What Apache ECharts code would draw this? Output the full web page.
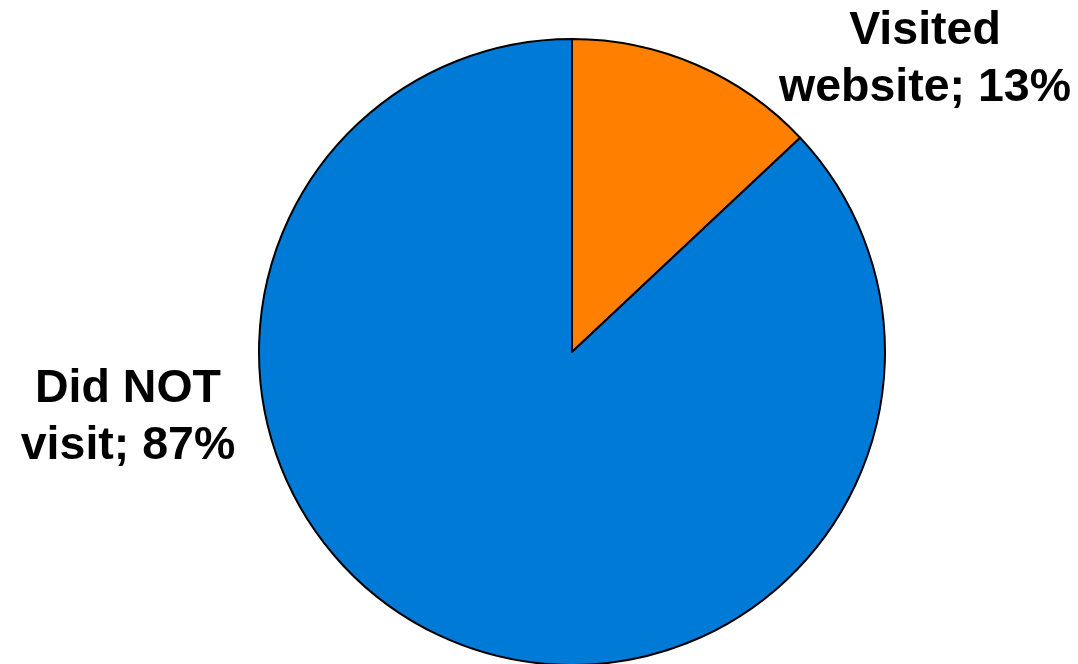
<!DOCTYPE html>
<html>
<head>
<meta charset="utf-8">
<script src="https://cdn.jsdelivr.net/npm/echarts@6/dist/echarts.min.js"></script>
<style>
html,body{margin:0;padding:0;background:#fff;}
#chart{width:1078px;height:664px;}
</style>
</head>
<body>
<div id="chart"></div>
<script>
const categories = ["Visited\nwebsite", "Did NOT\nvisit"];
const values = [13, 87];
const colors = ["#FF7F00", "#007AD7"];

const labelPos = [
  { x: 925, y: 60 },
  { x: 128, y: 418 }
];

const chart = echarts.init(document.getElementById('chart'));
chart.setOption({
  animation: false,
  backgroundColor: '#ffffff',
  series: [{
    type: 'pie',
    center: [572, 352],
    radius: [0, 313],
    startAngle: 90,
    clockwise: true,
    silent: true,
    data: categories.map((c, i) => ({
      name: c,
      value: values[i],
      itemStyle: { color: colors[i] }
    })),
    itemStyle: { borderColor: '#000000', borderWidth: 2 },
    label: {
      show: true,
      position: 'outside',
      formatter: p => p.name + '; ' + Math.round(p.percent) + '%',
      color: '#000000',
      fontFamily: '"Liberation Sans", Arial, sans-serif',
      fontWeight: 'bold',
      fontSize: 46.5,
      lineHeight: 57,
      align: 'center'
    },
    labelLine: { show: false },
    labelLayout: function (params) {
      const p = labelPos[params.dataIndex];
      return { x: p.x, y: p.y, align: 'center', verticalAlign: 'middle' };
    }
  }]
});
</script>
</body>
</html>
